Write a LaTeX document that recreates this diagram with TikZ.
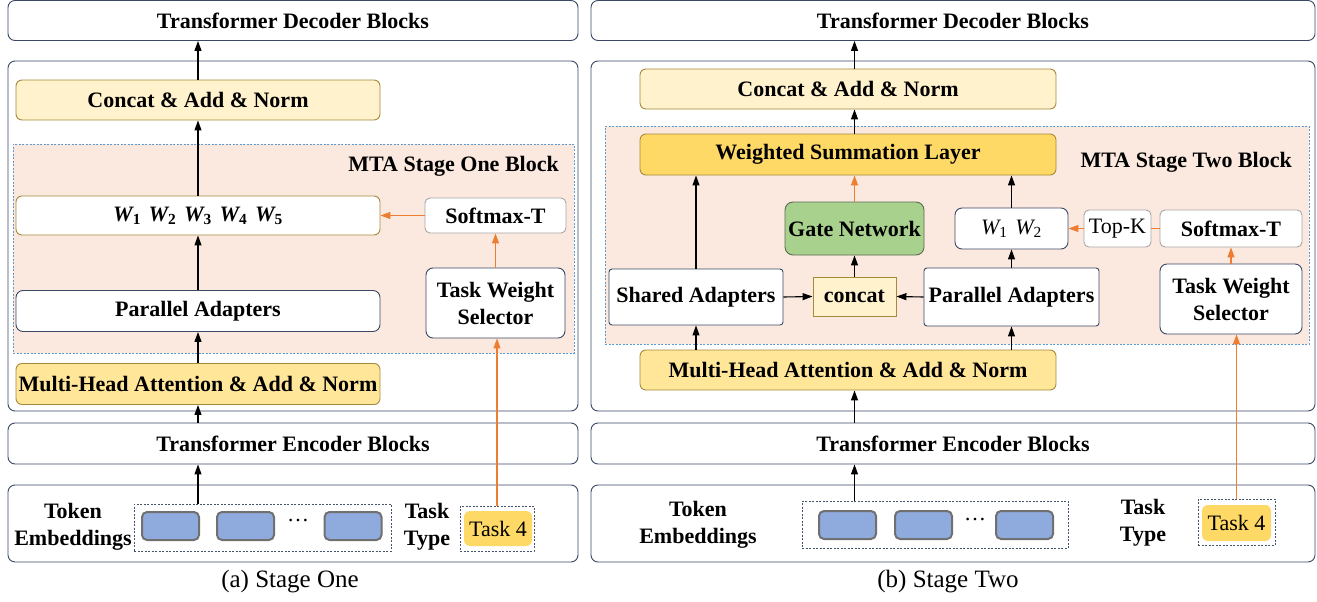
\documentclass[tikz,border=0pt]{standalone}
\usepackage{fontspec}
\setmainfont{Liberation Serif}
\usetikzlibrary{arrows.meta}
\definecolor{navy}{HTML}{3A4866}
\definecolor{gold}{HTML}{A68A3A}
\definecolor{paleyel}{HTML}{FFF2CC}
\definecolor{midyel}{HTML}{FFE699}
\definecolor{deepyel}{HTML}{FFD966}
\definecolor{peach}{HTML}{FBE9DF}
\definecolor{dashblue}{HTML}{5B9BD5}
\definecolor{arrorange}{HTML}{ED7D31}
\definecolor{gatefill}{HTML}{A9D18E}
\definecolor{gateedge}{HTML}{5A6B50}
\definecolor{tokfill}{HTML}{8FAADC}
\definecolor{tokedge}{HTML}{707070}
\definecolor{softedge}{HTML}{A6A6A6}
\definecolor{dotedge}{HTML}{44546A}
\newcommand{\wsub}[1]{{\itshape W}\textsubscript{#1}}

\begin{document}
\begin{tikzpicture}[x=1pt,y=-1pt,
  every node/.style={inner sep=0pt,align=center,
    font=\fontsize{22}{27}\selectfont\bfseries},
  blk/.style={draw=navy,line width=0.9pt,rounded corners=7pt,fill=white},
  goldbox/.style={draw=gold,line width=0.9pt,rounded corners=6pt},
  softbox/.style={draw=softedge,line width=0.9pt,rounded corners=5pt,fill=white},
  region/.style={draw=dashblue,line width=0.8pt,dash pattern=on 2pt off 1.5pt,fill=peach},
  dotbox/.style={draw=dotedge,line width=0.9pt,dash pattern=on 2pt off 1.5pt},
  tok/.style={draw=tokedge,line width=2pt,fill=tokfill,rounded corners=5pt,
    minimum width=57pt,minimum height=28pt},
  taskbox/.style={fill=deepyel,rounded corners=6pt,font=\fontsize{22}{27}\selectfont\mdseries},
  arr/.style={-{Triangle[length=10pt,width=7pt]},line width=1.1pt},
  oarr/.style={-{Triangle[length=10pt,width=7pt]},line width=1.1pt,draw=arrorange},
  caption/.style={font=\fontsize{25}{28}\selectfont\mdseries}]
  \useasboundingbox (0,0) rectangle (1317,602);

  \node[blk,minimum width=570pt,minimum height=350pt] (outL) at (293,236) {};
  \node[region,minimum width=561pt,minimum height=209pt] (mtaL) at (293.5,248.5) {};
  \node[anchor=east] (labL) at (559,166) {MTA Stage One Block};
  \node[blk,minimum width=570pt,minimum height=40pt] (decL) at (293,20.5) {Transformer Decoder Blocks};
  \node[goldbox,fill=paleyel,minimum width=364pt,minimum height=40pt] (catL) at (198,100) {Concat \& Add \& Norm};
  \node[goldbox,fill=white,minimum width=364pt,minimum height=39pt] (wL) at (198,215.5)
    {\wsub{1}\hspace{0.35em}\wsub{2}\hspace{0.35em}\wsub{3}\hspace{0.35em}\wsub{4}\hspace{0.35em}\wsub{5}};
  \node[softbox,minimum width=141pt,minimum height=35pt] (smL) at (495.5,215.5) {Softmax-T};
  \node[blk,minimum width=364pt,minimum height=41pt] (paL) at (198,311) {Parallel Adapters};
  \node[blk,minimum width=139pt,minimum height=70pt] (twsL) at (495.5,303) {Task Weight\\Selector};
  \node[goldbox,fill=midyel,minimum width=364pt,minimum height=41pt] (mhaL) at (198,384) {Multi-Head Attention \& Add \& Norm};
  \node[blk,minimum width=570pt,minimum height=41pt] (encL) at (293,443.5) {Transformer Encoder Blocks};
  \node[blk,minimum width=570pt,minimum height=77pt] (inL) at (293,523.5) {};
  \node (teL) at (73,527) {Token\\Embeddings};
  \node[dotbox,minimum width=257pt,minimum height=47pt] (tokL) at (262.5,527.5) {};
  \node[tok] (tokLa) at (170.5,526) {};
  \node[tok] (tokLb) at (245.5,526) {};
  \node[font=\fontsize{22}{27}\selectfont\mdseries] (dotsL) at (298,521) {\dots};
  \node[tok] (tokLc) at (353,526) {};
  \node (ttL) at (427,527) {Task\\Type};
  \node[dotbox,minimum width=74pt,minimum height=45pt] (taskL) at (497,528.5) {};
  \node[taskbox,minimum width=68pt,minimum height=35pt] (taskLin) at (498,528.5) {Task 4};
  \node[caption] (capL) at (290,582) {(a) Stage One};

  \draw[arr] (tokL.north -| mhaL) -- (mhaL |- encL.south);
  \draw[arr] (encL.north -| mhaL) -- (mhaL.south);
  \draw[arr] (mhaL.north) -- (paL.south);
  \draw[arr] (paL.north) -- (wL.south);
  \draw[arr] (wL.north) -- (catL.south);
  \draw[arr] (catL.north) -- (catL |- decL.south);
  \draw[oarr] (smL.west) -- (wL.east);
  \draw[oarr] (twsL.north) -- (smL.south);
  \draw[oarr] (taskL.north) -- (taskL |- twsL.south);

  \node[blk,minimum width=724pt,minimum height=350pt] (outR) at (953,236) {};
  \node[region,minimum width=704pt,minimum height=218pt] (mtaR) at (957,235) {};
  \node[anchor=east] (labR) at (1292,162) {MTA Stage Two Block};
  \node[blk,minimum width=724pt,minimum height=40pt] (decR) at (953,20.5) {Transformer Decoder Blocks};
  \node[goldbox,fill=paleyel,minimum width=416pt,minimum height=40pt] (catR) at (848,89) {Concat \& Add \& Norm};
  \node[goldbox,fill=deepyel,minimum width=416pt,minimum height=41pt] (wsl) at (848,154.5) {Weighted Summation Layer};
  \node[draw=gateedge,line width=0.9pt,rounded corners=8pt,fill=gatefill,minimum width=139pt,minimum height=53pt] (gate) at (854.5,228.5) {Gate Network};
  \node[blk,minimum width=113pt,minimum height=41pt] (wR) at (1011.5,228.5) {\mdseries\wsub{1}\hspace{0.35em}\wsub{2}};
  \node[softbox,minimum width=67pt,minimum height=37pt,font=\fontsize{22}{27}\selectfont\mdseries] (topk) at (1117.5,228.5) {Top-K};
  \node[softbox,minimum width=142pt,minimum height=37pt] (smR) at (1231,228.5) {Softmax-T};
  \node[blk,rounded corners=3pt,minimum width=174pt,minimum height=56pt] (shared) at (696,297) {Shared Adapters};
  \node[draw=gold,line width=0.9pt,fill=paleyel,minimum width=83pt,minimum height=39pt] (concat) at (854.5,296.5) {concat};
  \node[blk,rounded corners=3pt,minimum width=175pt,minimum height=58pt] (paR) at (1011.5,297) {Parallel Adapters};
  \node[blk,minimum width=142pt,minimum height=70pt] (twsR) at (1231,299) {Task Weight\\Selector};
  \node[goldbox,fill=midyel,minimum width=416pt,minimum height=40pt] (mhaR) at (848,370) {Multi-Head Attention \& Add \& Norm};
  \node[blk,minimum width=724pt,minimum height=41pt] (encR) at (953,443.5) {Transformer Encoder Blocks};
  \node[blk,minimum width=724pt,minimum height=77pt] (inR) at (953,523.5) {};
  \node (teR) at (698,525) {Token\\Embeddings};
  \node[dotbox,minimum width=266pt,minimum height=47pt] (tokR) at (935,524.5) {};
  \node[tok] (tokRa) at (847.5,525) {};
  \node[tok] (tokRb) at (923.5,525) {};
  \node[font=\fontsize{22}{27}\selectfont\mdseries] (dotsR) at (975,520) {\dots};
  \node[tok] (tokRc) at (1024.5,525) {};
  \node (ttR) at (1143,523) {Task\\Type};
  \node[dotbox,minimum width=77pt,minimum height=46pt] (taskR) at (1236.5,522) {};
  \node[taskbox,minimum width=69pt,minimum height=36pt] (taskRin) at (1236.5,523) {Task 4};
  \node[caption] (capR) at (948,582) {(b) Stage Two};

  \draw[arr] (tokR.north -| gate) -- (gate |- encR.south);
  \draw[arr] (encR.north -| gate) -- (gate |- mhaR.south);
  \draw[arr] (mhaR.north -| shared) -- (shared.south);
  \draw[arr] (mhaR.north -| paR) -- (paR.south);
  \draw[arr] (shared.east) -- (concat.west);
  \draw[arr] (paR.west) -- (concat.east);
  \draw[arr] (concat.north) -- (gate.south);
  \draw[oarr] (gate.north) -- (gate |- wsl.south);
  \draw[arr] (shared.north) -- (shared |- wsl.south);
  \draw[arr] (paR.north) -- (wR.south);
  \draw[arr] (wR.north) -- (wR |- wsl.south);
  \draw[arr] (wsl.north -| gate) -- (gate |- catR.south);
  \draw[arr] (catR.north -| gate) -- (gate |- decR.south);
  \draw[oarr] (topk.west) -- (wR.east);
  \draw[line width=1.1pt,draw=arrorange] (smR.west) -- (topk.east);
  \draw[oarr] (twsR.north) -- (smR.south);
  \draw[oarr] (taskR.north) -- (taskR |- twsR.south);
\end{tikzpicture}
\end{document}
